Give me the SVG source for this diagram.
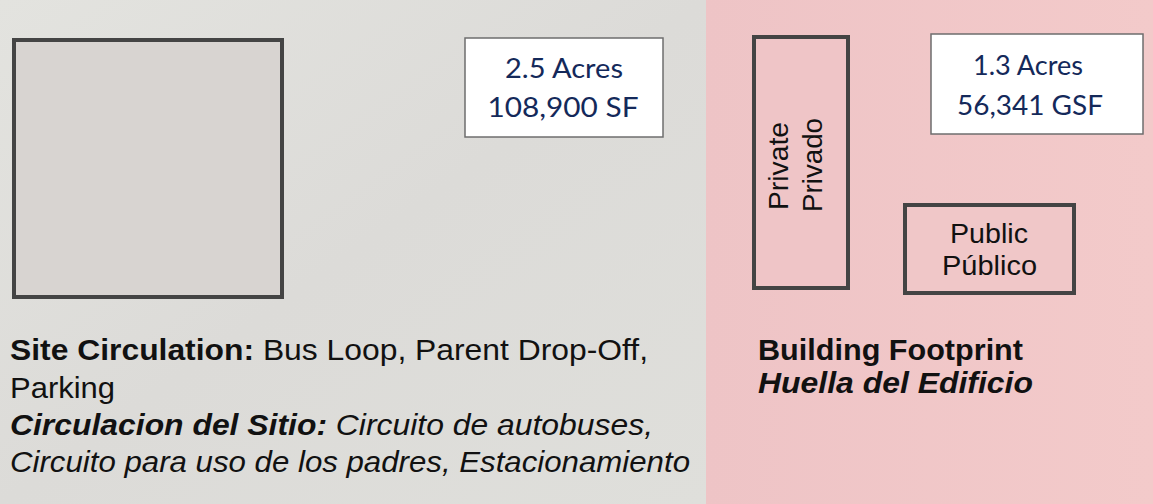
<svg xmlns="http://www.w3.org/2000/svg" width="1153" height="504" viewBox="0 0 1153 504">
  <style>
    .blk { stroke: #444444; stroke-width: 4; }
    .info { fill: #ffffff; stroke: #6e6e6e; stroke-width: 1.5; }
    .num { font-family: Lato, "Open Sans", sans-serif; font-size: 26px; fill: #14295a; text-anchor: middle; }
    .lbl { font-family: "Liberation Sans", Arial, sans-serif; font-size: 28px; fill: #111111; }
    .cap { font-family: "Liberation Sans", Arial, sans-serif; font-size: 29px; fill: #111111; }
    .b { font-weight: bold; }
    .i { font-style: italic; }
  </style>
  <defs>
    <linearGradient id="leftBg" x1="0" y1="0" x2="1" y2="1">
      <stop offset="0" stop-color="#e3e3df"/>
      <stop offset="0.5" stop-color="#dcdbd8"/>
      <stop offset="1" stop-color="#dfdfdb"/>
    </linearGradient>
    <linearGradient id="rightBg" x1="0" y1="0" x2="1" y2="0">
      <stop offset="0" stop-color="#eec4c6"/>
      <stop offset="1" stop-color="#f3caca"/>
    </linearGradient>
  </defs>

  <rect x="0" y="0" width="706" height="504" fill="url(#leftBg)"/>
  <rect x="706" y="0" width="447" height="504" fill="url(#rightBg)"/>

  <g id="site-square">
    <rect class="blk" x="14" y="40" width="268" height="257" fill="#d8d4d1"/>
  </g>

  <g id="site-area">
    <rect class="info" x="465" y="38" width="198" height="99"/>
    <text class="num" x="564" y="78" textLength="118" lengthAdjust="spacingAndGlyphs">2.5 Acres</text>
    <text class="num" x="563" y="117" textLength="151" lengthAdjust="spacingAndGlyphs">108,900 SF</text>
  </g>

  <g id="private">
    <rect class="blk" x="754" y="37" width="94" height="251" fill="#efc5c7"/>
    <text class="lbl" transform="translate(788,166) rotate(-90)" text-anchor="middle" textLength="88" lengthAdjust="spacingAndGlyphs">Private</text>
    <text class="lbl" transform="translate(822,165) rotate(-90)" text-anchor="middle" textLength="94" lengthAdjust="spacingAndGlyphs">Privado</text>
  </g>

  <g id="building-area">
    <rect class="info" x="931" y="34" width="212" height="100"/>
    <text class="num" x="1028" y="75" textLength="110" lengthAdjust="spacingAndGlyphs">1.3 Acres</text>
    <text class="num" x="1030" y="115" textLength="146" lengthAdjust="spacingAndGlyphs">56,341 GSF</text>
  </g>

  <g id="public">
    <rect class="blk" x="905" y="205" width="169" height="88" fill="#f0c7c8"/>
    <text class="lbl" x="989" y="243" text-anchor="middle" textLength="78" lengthAdjust="spacingAndGlyphs">Public</text>
    <text class="lbl" x="989.5" y="275" text-anchor="middle" textLength="95" lengthAdjust="spacingAndGlyphs">Público</text>
  </g>

  <g id="site-caption">
    <text class="cap" x="10" y="360" textLength="638" lengthAdjust="spacingAndGlyphs"><tspan class="b">Site Circulation:</tspan> Bus Loop, Parent Drop-Off,</text>
    <text class="cap" x="10" y="398" textLength="105" lengthAdjust="spacingAndGlyphs">Parking</text>
    <text class="cap i" x="10" y="435" textLength="643" lengthAdjust="spacingAndGlyphs"><tspan class="b">Circulacion del Sitio:</tspan> Circuito de autobuses,</text>
    <text class="cap i" x="10" y="472" textLength="680" lengthAdjust="spacingAndGlyphs">Circuito para uso de los padres, Estacionamiento</text>
  </g>

  <g id="building-caption">
    <text class="cap b" x="758" y="360" textLength="265" lengthAdjust="spacingAndGlyphs">Building Footprint</text>
    <text class="cap b i" x="758" y="393" textLength="275" lengthAdjust="spacingAndGlyphs">Huella del Edificio</text>
  </g>

  <g id="connectors"/>
</svg>
